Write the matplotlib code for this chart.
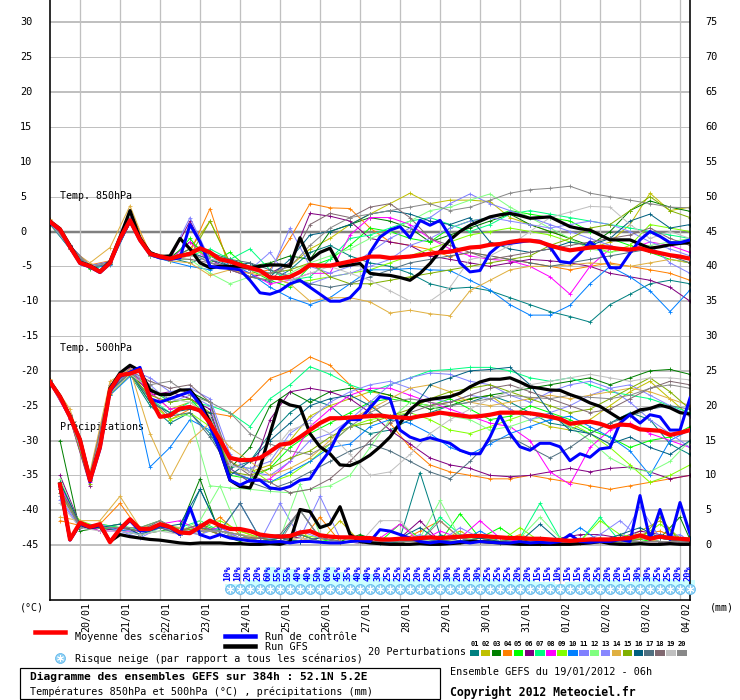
import numpy as np
import matplotlib
matplotlib.use('Agg')
import matplotlib.pyplot as plt
from matplotlib import transforms
from matplotlib.lines import Line2D
from matplotlib.patches import Rectangle

plt.rcParams['font.family'] = ['DejaVu Sans Mono', 'DejaVu Sans']

W, H = 740, 700
PX = 0.72            # one pixel in points (dpi 100)
DEG_PX = 6.967       # pixels per degree on the plot
RAIN_ZERO = -45.0    # 0 mm sits on -45 degC

# time axes (hours since 19/01/2012 06h)
HOURS_6 = np.arange(0, 385, 6)
HOURS_12 = np.arange(0, 385, 12)
RAIN_HOURS_6 = np.arange(6, 385, 6)
RAIN_HOURS_12 = np.r_[np.arange(6, 384, 12), 384]

DATES = ['20/01', '21/01', '22/01', '23/01', '24/01', '25/01', '26/01', '27/01',
         '28/01', '29/01', '30/01', '31/01', '01/02', '02/02', '03/02', '04/02']
DATE_HOURS = 18 + 24 * np.arange(len(DATES))

T_TICKS = list(range(30, -46, -5))

MEMBER_COLORS = ['#008080', '#c0c000', '#008000', '#ff8000', '#00ff00', '#800080',
                 '#00ff80', '#ff00ff', '#80ff00', '#0080ff', '#8080ff', '#80ff80',
                 '#8888ff', '#e0b040', '#80b000', '#006080', '#507080', '#806870',
                 '#c0c0c0', '#888888']

# ---- 850 hPa temperature, 20 perturbations (12 h steps) ----
T850_MEMBERS = [
    [1.3, -2.0, -5.2, -4.3, 1.5, -3.4, -3.8, -4.5, -3.5, -5.0, -6.5, -7.2, -5.5, -3.0, -2.0, -3.5, -4.5, -5.0, -6.0, -7.5, -8.2, -8.0, -8.5, -9.5, -10.5, -11.5, -12.2, -13.0, -10.5, -9.0, -7.5, -7.0, -7.5],
    [1.0, -2.4, -5.0, -4.6, 1.8, -3.0, -4.0, -2.5, 1.5, -4.5, -5.5, -6.0, -5.0, -2.5, -1.0, 1.0, 2.5, 4.0, 5.5, 4.0, 4.5, 4.5, 4.3, 2.0, 1.0, 0.0, -1.0, -2.5, -1.5, 1.0, 5.5, 3.0, 3.5],
    [1.5, -2.1, -5.3, -4.4, 2.0, -3.3, -3.8, -1.5, -3.5, -4.0, -5.0, -4.5, -3.5, -4.0, 0.0, 1.0, 2.0, 1.5, 0.5, -1.5, -0.5, 0.5, 1.5, 2.5, 1.0, 0.0, -1.0, -2.0, 0.0, 3.0, 4.4, 3.5, 2.9],
    [1.6, -2.3, -4.8, -4.2, 3.0, -3.0, -3.6, -3.0, 3.3, -5.5, -6.0, -5.5, -1.0, 4.0, 3.4, 3.3, 0.5, -1.5, -2.0, -2.6, -3.6, -3.0, -3.5, -4.0, -4.5, -5.0, -5.5, -5.0, -4.5, -5.0, -5.5, -6.0, -7.0],
    [1.2, -2.5, -5.4, -4.7, 1.3, -3.5, -4.2, -1.0, -4.5, -3.0, -5.5, -7.0, -8.0, -5.0, -4.0, -2.0, 0.5, 0.0, -1.0, -1.5, 0.5, 1.5, 2.0, 3.0, 2.5, 2.0, 1.5, 0.0, -1.0, -2.0, -3.0, -4.0, -4.5],
    [1.4, -2.2, -5.1, -4.6, 1.2, -3.2, -4.0, 1.5, -4.0, -5.5, -6.5, -6.0, -4.5, 2.6, 2.2, 1.5, -1.0, -1.5, -2.0, -3.5, -4.0, -4.5, -5.0, -4.5, -4.0, -4.2, -4.5, -5.0, -6.0, -6.5, -7.0, -8.0, -10.0],
    [1.3, -2.3, -4.9, -4.5, 1.7, -3.1, -3.9, -3.5, -2.5, -4.0, -2.5, -5.5, -7.0, -6.5, -4.0, -1.0, -0.5, 0.5, 1.5, 2.0, 1.0, 0.0, 1.0, 2.5, 3.0, 2.5, 2.0, 1.5, 1.0, 0.5, 0.0, -0.5, -1.0],
    [1.5, -2.1, -5.0, -4.4, 1.9, -3.3, -4.1, -1.5, -4.5, -5.0, -6.0, -7.5, -7.0, -6.0, -6.0, -0.5, 2.0, 2.0, 1.0, -1.0, -2.5, -3.5, -4.0, -4.2, -5.0, -6.5, -9.0, -5.0, -2.5, -2.5, -1.5, -2.0, -3.0],
    [1.2, -2.4, -5.1, -4.6, 1.5, -3.4, -3.9, -2.5, -3.5, -4.5, -5.5, -6.5, -7.5, -7.0, -6.5, -6.0, -5.5, -4.5, -3.5, -2.5, -1.5, -0.5, 0.0, 0.5, 0.0, -0.5, -1.5, -2.0, -3.0, -2.0, 1.0, 0.5, 0.0],
    [1.1, -2.5, -5.3, -4.8, 1.3, -3.5, -4.3, -5.0, -5.5, -4.5, -6.0, -8.0, -9.5, -10.5, -9.5, -7.5, -5.5, -5.5, -5.3, -5.5, -5.6, -7.0, -8.4, -10.5, -12.0, -12.0, -10.6, -7.5, -5.0, -6.5, -8.5, -11.5, -8.4],
    [1.4, -2.0, -4.9, -4.3, 1.8, -3.0, -3.7, 2.0, -4.0, -4.5, -5.0, -6.0, 0.5, -5.0, -6.0, -5.0, -3.0, -1.0, 0.5, 2.0, 4.0, 5.4, 4.0, 3.0, 2.0, 1.0, 0.0, -1.0, -2.0, -3.0, -2.0, -4.5, -6.0],
    [1.3, -2.2, -5.2, -4.5, 1.4, -3.2, -4.0, -4.0, -6.0, -7.5, -6.5, -7.0, -6.0, -4.5, -3.5, -2.5, -1.0, 0.0, 1.5, 3.0, 3.5, 4.5, 5.4, 3.5, 2.0, 0.5, -1.0, -2.5, -3.0, -2.5, -2.0, -1.5, -1.0],
    [1.2, -2.3, -5.1, -4.7, 1.5, -3.4, -4.1, -3.0, -4.5, -5.0, -5.5, -3.0, -7.0, -7.5, -6.5, -6.0, -5.0, -4.0, -2.0, -1.0, 0.5, 1.5, 2.0, 1.5, 1.0, 0.5, 1.0, 1.5, 1.0, 0.0, -1.5, -2.5, -3.5],
    [1.8, -2.5, -4.5, -2.3, 3.7, -3.5, -4.2, -4.5, -6.3, -5.5, -6.0, -6.5, -7.5, -10.0, -9.5, -9.5, -10.1, -11.7, -11.3, -11.8, -12.1, -8.5, -7.0, -5.5, -5.0, -5.0, -4.8, -4.5, -4.7, -5.0, -4.5, -4.0, -4.5],
    [1.3, -2.2, -5.0, -4.6, 1.6, -3.2, -4.0, -3.5, 1.5, -4.5, -5.5, -6.0, -5.5, -4.5, -6.5, -7.5, -7.5, -7.0, -6.5, -6.0, -5.5, -5.0, -4.5, -4.0, -3.5, -2.0, -1.0, 0.5, 1.0, 3.0, 5.0, 3.0, 2.0],
    [1.4, -2.1, -5.1, -4.4, 1.6, -3.1, -3.8, -3.0, -4.0, -5.0, -4.5, -6.5, -4.0, -0.5, 0.0, 1.0, 2.5, 3.0, 2.5, 1.5, 1.0, 2.0, -1.5, -2.5, -3.0, -2.5, -1.5, -2.0, -1.0, 1.5, 2.5, 0.5, 1.0],
    [1.2, -2.4, -5.2, -4.6, 1.4, -3.3, -3.9, -2.5, -3.0, -4.0, -4.5, -5.5, -6.5, -7.5, -8.0, -7.5, -6.5, -5.5, -4.5, -4.0, -3.5, -3.0, -3.5, -4.0, -4.5, -5.0, -4.5, -4.0, -3.5, -3.0, -2.5, -3.5, -4.5],
    [1.5, -2.0, -5.0, -4.4, 1.8, -3.0, -3.8, -4.0, -4.5, -5.5, -6.5, -7.0, -4.5, 1.0, 2.6, 2.0, 3.5, 4.0, 2.0, -1.0, -2.0, -3.0, -4.0, -3.5, -3.0, -2.5, -2.0, -1.5, -1.0, -0.5, 0.5, -1.0, -2.0],
    [1.3, -2.3, -5.0, -4.5, 1.5, -3.3, -4.0, -3.5, -4.0, -4.5, -5.5, -6.5, -7.0, -6.0, -5.0, -6.0, -7.0, -8.5, -10.0, -10.0, -8.0, -4.0, -3.5, -2.0, 0.0, 2.0, 2.8, 3.6, 3.5, 1.0, -1.0, 0.0, -1.0],
    [1.4, -2.2, -5.1, -4.5, 1.6, -3.2, -3.9, -3.0, -4.5, -5.0, -5.5, -6.0, -5.0, -2.0, 0.5, 2.0, 2.5, 3.0, 3.5, 4.0, 3.0, 3.5, 4.5, 5.5, 6.0, 6.2, 6.5, 5.5, 5.0, 4.5, 4.0, 3.5, 3.4],
]

# 6 h steps: ensemble mean, control run, operational GFS
T850_MEAN = [1.4, 0.3, -2.2, -4.5, -5.0, -5.8, -4.5, -1.0, 1.6, -1.2,
             -3.2, -3.6, -3.9, -3.5, -3.2, -2.4, -3.0, -4.0, -4.3, -4.8,
             -5.2, -5.6, -6.6, -6.7, -6.5, -5.8, -4.8, -4.9, -4.9, -4.6,
             -4.3, -4.0, -3.6, -3.6, -3.8, -3.7, -3.6, -3.4, -3.2, -3.0,
             -2.9, -2.6, -2.3, -2.2, -1.9, -1.8, -1.5, -1.3, -1.3, -1.5,
             -2.0, -2.4, -2.7, -2.5, -2.3, -2.2, -2.3, -2.5, -2.6, -2.4,
             -2.8, -3.1, -3.4, -3.6, -3.9]
T850_CONTROL = [1.3, 0.2, -2.3, -4.6, -5.1, -5.9, -4.6, -1.2, 1.5, -1.3,
                -3.3, -3.8, -4.0, -3.8, 1.0, -1.5, -5.0, -5.2, -5.3, -5.5,
                -7.0, -8.8, -9.0, -8.5, -7.5, -7.0, -8.0, -9.0, -10.0, -10.0,
                -9.5, -8.0, -3.0, -0.8, 0.2, 0.7, -0.9, 1.6, 0.9, 1.6,
                -0.7, -4.5, -5.8, -5.6, -3.1, -1.9, -1.7, -1.5, -1.3, -1.4,
                -2.2, -4.3, -4.5, -3.1, -1.5, -2.6, -5.2, -5.2, -3.1, -1.2,
                0.0, -0.7, -1.6, -1.6, -1.2]
T850_GFS = [1.5, 0.4, -2.0, -4.4, -4.9, -5.7, -4.3, -0.8, 3.0, -1.0,
            -3.0, -3.6, -3.5, -1.0, -2.5, -4.5, -5.2, -5.0, -5.0, -5.0,
            -5.2, -5.0, -4.8, -4.8, -5.0, -0.9, -4.1, -3.0, -2.4, -5.0,
            -4.8, -4.6, -6.0, -6.2, -6.3, -6.6, -7.0, -6.0, -4.6, -2.8,
            -1.2, 0.0, 0.9, 1.5, 2.1, 2.4, 2.6, 2.3, 1.9, 2.0,
            2.1, 1.4, 0.7, 0.4, 0.2, -0.5, -1.2, -1.2, -1.2, -1.8,
            -2.4, -2.2, -1.9, -1.7, -1.6]

# ---- 500 hPa temperature, 20 perturbations (12 h steps) ----
T500_MEMBERS = [
    [-21.5, -26.5, -35.0, -23.0, -20.5, -25.0, -27.5, -26.0, -29.0, -34.0, -33.0, -29.0, -26.0, -24.0, -25.0, -27.5, -29.0, -28.5, -27.0, -26.0, -25.0, -24.5, -23.5, -24.5, -26.0, -27.5, -28.0, -29.0, -27.5, -26.0, -27.0, -30.5, -32.0],
    [-21.8, -26.8, -35.8, -23.5, -20.2, -23.0, -25.5, -24.5, -26.5, -33.0, -34.5, -33.5, -30.0, -26.5, -25.0, -24.0, -23.0, -23.5, -24.5, -25.0, -24.5, -24.0, -23.5, -25.5, -27.0, -28.0, -28.5, -27.0, -25.0, -23.0, -21.5, -24.0, -26.5],
    [-21.3, -26.3, -35.2, -22.5, -20.6, -22.8, -24.0, -23.0, -24.5, -34.0, -31.0, -25.0, -23.0, -24.5, -23.0, -22.5, -22.8, -23.5, -24.5, -25.5, -25.0, -24.0, -23.5, -23.0, -22.5, -22.0, -21.5, -21.0, -22.0, -21.0, -20.0, -19.8, -20.5],
    [-21.6, -26.4, -35.3, -22.0, -20.0, -24.0, -27.0, -25.5, -26.0, -26.5, -24.0, -21.1, -20.0, -18.0, -19.2, -22.0, -24.5, -27.5, -31.0, -33.5, -34.5, -35.0, -35.5, -35.5, -35.0, -35.5, -36.0, -36.5, -37.0, -36.5, -36.0, -35.5, -35.0],
    [-21.4, -26.7, -35.6, -22.6, -20.3, -22.5, -24.5, -24.0, -27.0, -35.0, -35.5, -34.0, -31.0, -29.0, -27.5, -26.0, -24.5, -24.0, -24.5, -25.0, -24.0, -25.5, -27.0, -26.5, -25.0, -26.0, -27.0, -28.5, -29.5, -31.0, -30.0, -29.5, -28.0],
    [-21.7, -26.9, -36.5, -23.0, -19.5, -23.5, -23.0, -24.0, -25.5, -34.5, -35.5, -27.0, -23.0, -22.5, -23.0, -24.0, -26.0, -28.5, -30.5, -32.5, -33.5, -34.0, -35.0, -35.2, -35.0, -34.5, -34.0, -34.5, -34.0, -33.8, -34.5, -35.5, -35.0],
    [-21.5, -26.5, -35.4, -22.4, -20.2, -24.0, -26.0, -24.5, -25.0, -26.0, -28.0, -24.0, -22.0, -19.4, -20.5, -22.0, -23.0, -22.0, -21.0, -20.0, -19.8, -19.5, -19.5, -20.0, -21.0, -21.5, -21.0, -22.0, -23.0, -23.5, -24.0, -25.0, -26.0],
    [-21.8, -26.9, -36.0, -23.2, -20.0, -23.0, -25.5, -25.0, -27.0, -34.0, -36.0, -35.5, -33.0, -28.0, -25.5, -23.5, -22.5, -22.5, -23.5, -24.5, -25.5, -26.5, -27.5, -28.0, -30.0, -34.5, -36.3, -31.0, -28.5, -27.5, -29.0, -30.0, -31.0],
    [-21.4, -26.4, -35.2, -22.7, -20.4, -24.5, -27.0, -26.0, -28.0, -33.5, -34.0, -36.0, -35.0, -33.0, -30.5, -28.0, -27.0, -26.5, -26.0, -27.0, -28.5, -29.0, -28.0, -27.0, -26.0, -26.5, -27.5, -29.0, -31.0, -33.5, -36.0, -35.0, -33.5],
    [-21.6, -26.6, -35.5, -23.5, -20.8, -33.8, -31.0, -27.0, -28.5, -34.5, -35.5, -36.0, -34.5, -33.0, -31.0, -30.5, -28.0, -27.0, -27.5, -29.0, -31.0, -32.0, -30.5, -29.0, -28.0, -27.0, -26.5, -28.0, -29.5, -31.5, -35.0, -30.0, -28.5],
    [-21.5, -26.2, -35.0, -22.0, -19.8, -21.0, -23.0, -22.5, -24.0, -32.0, -34.5, -35.0, -33.0, -30.0, -29.0, -27.0, -24.5, -22.0, -21.0, -20.3, -20.5, -21.5, -22.0, -23.5, -24.5, -23.0, -22.0, -21.5, -22.5, -24.5, -27.0, -29.0, -31.0],
    [-21.7, -26.7, -35.7, -23.0, -20.5, -24.5, -26.0, -26.5, -36.5, -36.8, -37.0, -37.3, -37.5, -37.0, -36.5, -35.0, -31.0, -27.0, -24.5, -25.0, -26.5, -27.0, -28.5, -28.0, -27.0, -26.5, -28.0, -30.0, -32.5, -34.0, -34.5, -33.0, -30.0],
    [-21.4, -26.4, -35.3, -22.5, -20.0, -22.0, -24.5, -23.5, -25.0, -33.5, -34.0, -33.0, -29.0, -27.0, -24.5, -23.0, -22.0, -21.5, -22.5, -24.0, -24.5, -23.5, -24.0, -25.5, -27.0, -26.0, -25.0, -23.5, -22.5, -22.0, -23.5, -25.0, -26.5],
    [-21.2, -25.5, -34.5, -21.5, -19.8, -29.0, -35.4, -30.0, -27.5, -31.0, -33.0, -35.0, -34.0, -32.5, -30.0, -27.0, -25.5, -24.0, -22.5, -22.0, -23.0, -24.5, -25.0, -24.5, -24.0, -23.5, -24.0, -23.5, -23.0, -22.5, -23.0, -24.0, -25.0],
    [-21.6, -26.8, -36.2, -23.3, -20.6, -23.5, -24.5, -24.0, -26.0, -34.5, -35.0, -34.0, -32.5, -31.5, -29.5, -28.0, -27.5, -26.5, -25.5, -24.0, -23.0, -22.5, -22.0, -23.0, -24.0, -25.0, -26.0, -25.5, -24.0, -22.5, -21.0, -23.0, -25.5],
    [-21.5, -26.5, -35.6, -22.8, -20.3, -24.5, -26.0, -25.5, -26.0, -35.0, -33.0, -30.0, -27.5, -25.0, -24.0, -23.5, -25.0, -27.0, -26.0, -22.0, -21.0, -20.0, -19.8, -19.5, -22.0, -26.0, -28.5, -29.0, -30.5, -29.5, -31.0, -32.0, -30.0],
    [-21.7, -26.6, -35.4, -23.0, -20.4, -24.0, -26.5, -26.0, -29.5, -34.0, -36.0, -37.0, -36.0, -34.5, -33.0, -31.5, -30.5, -31.5, -33.0, -34.5, -35.5, -33.0, -30.0, -29.5, -31.0, -32.5, -31.0, -29.0, -27.5, -26.5, -25.5, -25.0, -25.5],
    [-21.3, -26.3, -35.0, -22.3, -20.0, -21.5, -22.5, -22.0, -24.5, -33.0, -35.0, -36.0, -37.5, -37.0, -35.5, -33.0, -30.0, -27.5, -26.0, -25.0, -24.5, -23.5, -22.5, -22.0, -23.0, -24.0, -25.0, -26.0, -25.5, -24.0, -22.5, -21.5, -22.0],
    [-21.6, -26.7, -35.5, -23.2, -20.5, -22.5, -24.0, -24.5, -26.5, -33.5, -34.5, -32.0, -28.5, -27.5, -29.0, -32.0, -35.0, -34.5, -32.0, -29.0, -27.0, -25.5, -24.0, -23.0, -22.0, -21.5, -21.0, -20.5, -21.0, -21.5, -21.0, -21.0, -21.3],
    [-21.5, -26.5, -35.4, -22.6, -20.3, -22.0, -21.5, -23.5, -24.5, -26.0, -29.0, -30.5, -31.5, -32.0, -30.5, -28.0, -26.0, -24.5, -24.0, -24.5, -25.0, -24.5, -24.0, -23.5, -23.8, -24.0, -23.5, -23.8, -24.0, -23.5, -22.5, -22.0, -22.5],
]

T500_MEAN = [-21.6, -23.7, -26.6, -29.9, -35.7, -30.9, -22.75, -20.6, -20.4, -19.9,
             -23.9, -26.6, -26.4, -25.4, -25.2, -25.7, -27.5, -29.9, -32.5, -32.8,
             -32.8, -32.5, -31.6, -30.6, -30.4, -29.5, -28.5, -27.5, -26.8, -26.8,
             -26.7, -26.6, -26.5, -26.4, -26.6, -26.7, -26.8, -26.5, -26.3, -26.0,
             -26.2, -26.4, -26.6, -26.5, -26.3, -26.0, -26.0, -26.0, -26.1, -26.3,
             -26.6, -26.9, -27.6, -27.4, -27.3, -27.6, -28.1, -27.7, -27.8, -28.4,
             -28.5, -28.6, -29.2, -28.9, -28.5]
T500_CONTROL = [-21.6, -23.8, -26.7, -30.0, -35.9, -31.2, -23.0, -20.8, -20.2, -19.5,
                -24.0, -24.5, -24.0, -23.5, -23.0, -24.8, -27.9, -31.4, -35.7, -36.4,
                -35.7, -35.7, -36.8, -37.0, -36.6, -35.7, -35.5, -33.3, -31.4, -28.5,
                -27.0, -27.0, -25.3, -23.7, -24.0, -28.5, -29.5, -30.0, -29.6, -30.0,
                -30.4, -31.4, -31.9, -31.9, -29.5, -26.4, -29.0, -30.9, -31.4, -30.4,
                -30.4, -30.9, -32.9, -31.9, -32.4, -31.2, -31.0, -27.5, -26.3, -27.5,
                -26.3, -26.6, -28.5, -28.5, -23.9]
T500_GFS = [-21.5, -23.6, -26.5, -29.8, -35.6, -30.8, -22.5, -20.3, -19.2, -20.0,
            -22.75, -23.4, -23.4, -22.75, -22.75, -24.5, -27.3, -31.4, -35.7, -36.6,
            -36.8, -33.9, -29.0, -24.2, -24.9, -25.2, -29.0, -30.9, -31.9, -33.5,
            -33.6, -33.0, -32.1, -30.9, -29.5, -27.5, -25.6, -24.4, -24.1, -23.9,
            -23.7, -23.2, -22.3, -21.6, -21.2, -21.2, -21.0, -21.6, -22.3, -22.5,
            -22.75, -22.8, -23.4, -23.9, -24.6, -25.1, -26.0, -26.9, -26.3, -25.6,
            -25.4, -24.9, -25.3, -26.0, -26.2]

# ---- precipitation (mm), 20 perturbations ----
RAIN_MEMBERS = [
    [9.0, 3.0, 2.5, 2.0, 1.5, 3.0, 1.5, 8.0, 2.0, 1.0, 0.5, 1.0, 5.0, 1.0, 0.5, 0.5, 0.3, 1.0, 10.4, 1.5, 0.5, 1.0, 0.5, 0.3, 0.5, 1.0, 0.5, 0.5, 0.8, 1.0, 0.5, 0.3, 0.5],
    [7.5, 2.5, 3.0, 2.5, 2.0, 2.5, 2.0, 1.5, 3.0, 2.0, 1.0, 0.5, 1.0, 0.5, 3.5, 0.5, 0.3, 0.5, 1.0, 0.5, 2.0, 0.5, 1.0, 0.5, 0.2, 0.5, 0.3, 1.0, 0.5, 2.0, 3.5, 1.0, 0.5],
    [15.0, 2.0, 2.5, 3.0, 1.5, 2.0, 2.5, 9.5, 1.5, 0.5, 1.5, 1.0, 0.5, 1.0, 0.5, 1.5, 0.5, 0.3, 1.0, 0.5, 0.5, 1.0, 0.3, 0.5, 1.0, 0.5, 0.5, 0.3, 1.0, 1.5, 1.0, 4.0, 0.8],
    [3.5, 2.8, 3.0, 6.0, 2.0, 3.0, 1.5, 2.0, 4.0, 1.5, 1.0, 0.5, 0.5, 4.0, 0.5, 0.5, 1.0, 0.5, 2.0, 3.5, 1.0, 0.5, 0.5, 1.5, 0.5, 0.8, 0.5, 0.3, 0.5, 1.5, 2.0, 0.8, 0.5],
    [8.0, 3.2, 2.5, 2.0, 2.5, 3.5, 2.0, 3.0, 2.0, 1.5, 0.5, 1.0, 1.5, 0.5, 1.0, 0.5, 0.5, 3.0, 1.0, 0.5, 4.5, 1.0, 2.5, 0.5, 0.3, 0.5, 0.5, 0.5, 0.3, 0.5, 1.0, 0.5, 1.0],
    [10.0, 3.0, 2.0, 2.5, 2.0, 2.5, 1.5, 2.5, 1.5, 1.0, 1.0, 1.5, 1.0, 0.5, 0.5, 0.3, 0.5, 1.0, 3.5, 0.5, 1.0, 0.5, 0.5, 0.3, 0.5, 1.0, 1.5, 1.5, 1.0, 2.0, 1.5, 0.8, 0.8],
    [9.0, 2.5, 3.0, 2.5, 1.5, 2.5, 2.5, 3.5, 2.0, 1.5, 0.5, 1.0, 1.5, 0.5, 0.5, 0.5, 0.5, 1.0, 0.5, 4.0, 1.5, 1.0, 1.0, 1.0, 6.0, 1.0, 0.5, 4.0, 0.5, 1.0, 0.5, 0.5, 0.3],
    [8.5, 3.0, 2.0, 2.0, 2.0, 3.0, 3.5, 2.0, 2.5, 1.0, 1.0, 0.5, 0.5, 1.0, 0.5, 0.3, 1.0, 3.0, 0.5, 2.0, 1.0, 3.5, 1.0, 0.5, 0.3, 0.5, 0.5, 0.5, 0.8, 0.5, 0.5, 0.3, 0.3],
    [7.0, 3.5, 2.5, 2.5, 2.0, 2.5, 2.0, 3.0, 3.5, 2.0, 1.0, 0.5, 1.5, 1.0, 0.5, 0.5, 0.5, 1.0, 0.5, 1.0, 0.5, 1.5, 0.5, 2.5, 0.5, 1.0, 0.5, 3.5, 1.5, 1.0, 3.0, 1.0, 1.0],
    [8.0, 3.0, 2.8, 2.0, 2.5, 3.0, 1.5, 2.0, 2.0, 6.0, 1.0, 1.0, 0.5, 0.5, 0.5, 0.5, 0.3, 0.5, 1.0, 0.5, 0.5, 2.0, 0.5, 1.0, 0.5, 0.5, 2.5, 0.5, 0.5, 0.8, 1.5, 0.8, 1.0],
    [6.5, 2.5, 3.0, 2.0, 1.0, 2.5, 2.0, 1.5, 2.5, 1.0, 0.5, 6.0, 1.0, 7.0, 1.0, 0.5, 0.5, 0.5, 1.5, 0.5, 1.0, 0.5, 0.5, 0.5, 0.3, 0.5, 1.0, 0.5, 0.5, 5.5, 1.0, 1.5, 0.5],
    [9.5, 2.8, 2.5, 3.0, 2.0, 2.0, 2.0, 3.5, 8.5, 1.5, 1.0, 1.0, 8.7, 1.5, 1.0, 0.5, 0.5, 0.5, 1.0, 6.4, 1.0, 1.0, 0.5, 1.0, 4.0, 1.0, 0.5, 0.5, 0.5, 1.5, 1.0, 0.5, 0.5],
    [7.0, 2.5, 2.5, 2.5, 1.5, 3.0, 2.0, 2.5, 2.0, 1.5, 1.0, 1.0, 2.0, 1.0, 0.5, 0.5, 0.5, 0.5, 1.0, 0.5, 2.5, 1.0, 0.5, 0.5, 0.5, 0.3, 0.5, 1.5, 3.5, 1.0, 0.5, 0.5, 0.5],
    [4.0, 3.5, 3.5, 7.0, 2.5, 3.0, 2.5, 2.0, 2.0, 1.5, 1.0, 0.5, 1.0, 0.5, 0.3, 0.5, 0.5, 0.5, 0.5, 0.5, 0.5, 1.0, 0.5, 0.3, 0.5, 0.5, 0.5, 0.3, 0.5, 1.0, 0.5, 0.5, 0.5],
    [8.0, 3.0, 2.5, 2.5, 2.0, 3.0, 2.0, 2.5, 1.5, 1.0, 1.0, 0.5, 1.5, 0.5, 0.5, 0.5, 0.5, 1.0, 0.5, 0.5, 1.0, 0.5, 0.5, 0.3, 0.5, 0.5, 0.5, 1.0, 0.5, 0.8, 4.0, 0.5, 0.5],
    [9.0, 3.0, 2.5, 3.0, 1.5, 2.5, 3.0, 8.0, 2.0, 1.0, 0.5, 1.0, 0.5, 1.0, 0.5, 0.5, 0.5, 1.0, 2.5, 0.5, 0.5, 1.0, 0.5, 0.5, 3.0, 0.5, 0.5, 0.5, 1.5, 2.5, 1.0, 0.5, 0.5],
    [8.0, 2.5, 2.5, 2.5, 2.0, 2.5, 1.5, 2.5, 2.0, 6.0, 1.0, 0.5, 1.5, 0.5, 0.5, 0.3, 0.5, 0.5, 1.0, 0.5, 1.0, 0.5, 0.5, 1.0, 0.5, 0.5, 0.5, 0.5, 1.0, 1.5, 1.0, 0.5, 0.5],
    [7.5, 3.0, 2.5, 2.5, 2.0, 3.5, 2.0, 3.0, 1.5, 1.0, 1.0, 1.5, 5.0, 1.0, 0.5, 0.5, 0.5, 0.5, 0.5, 0.5, 0.5, 0.5, 0.5, 0.5, 0.5, 0.5, 0.3, 0.5, 0.5, 0.5, 0.5, 0.5, 0.5],
    [6.0, 2.5, 2.0, 2.0, 1.5, 2.0, 1.5, 2.0, 2.0, 1.0, 0.5, 0.5, 1.0, 0.5, 0.5, 0.3, 3.5, 3.5, 0.5, 1.0, 0.5, 0.5, 0.5, 0.5, 0.5, 0.5, 0.5, 0.3, 0.3, 0.5, 0.5, 0.3, 0.3],
    [8.0, 2.5, 2.5, 2.5, 2.5, 3.5, 2.0, 2.0, 2.0, 1.5, 0.5, 0.5, 5.0, 1.0, 0.5, 0.5, 0.5, 0.5, 0.5, 3.5, 1.0, 0.5, 0.5, 0.5, 0.5, 0.5, 0.5, 0.5, 0.5, 0.5, 0.5, 0.5, 0.3],
]

RAIN_MEAN = [8.7, 0.8, 3.2, 2.6, 3.0, 0.4, 2.3, 3.7, 2.3, 2.3,
             3.0, 2.6, 1.8, 1.7, 2.6, 3.5, 2.8, 2.3, 2.3, 2.0,
             1.5, 1.3, 1.2, 1.3, 1.8, 2.0, 1.4, 1.2, 1.1, 1.1,
             1.0, 1.0, 0.8, 0.8, 0.9, 0.9, 1.0, 1.1, 1.0, 1.1,
             1.2, 1.3, 1.3, 1.2, 1.1, 1.0, 1.0, 0.9, 0.9, 0.8,
             0.7, 0.6, 0.7, 0.8, 0.8, 0.8, 0.9, 1.0, 1.4, 0.9,
             1.2, 1.0, 0.9, 0.8]
RAIN_CONTROL = [8.5, 0.7, 3.0, 2.5, 2.8, 0.5, 2.2, 3.5, 2.0, 2.2,
                2.8, 2.5, 1.5, 5.4, 1.5, 1.0, 1.5, 1.0, 0.8, 0.6,
                0.5, 0.4, 0.5, 0.3, 0.5, 0.5, 0.4, 0.3, 0.3, 0.5,
                0.6, 0.5, 2.2, 2.0, 1.5, 1.0, 0.5, 0.3, 0.5, 0.3,
                0.5, 0.3, 0.5, 0.4, 0.3, 0.3, 0.5, 0.3, 0.4, 0.3,
                0.5, 1.5, 0.5, 0.4, 0.5, 0.5, 0.8, 0.5, 7.1, 0.8,
                5.1, 0.8, 6.1, 1.6]
RAIN_GFS = [8.5, 0.8, 3.0, 2.5, 2.8, 0.5, 1.5, 1.2, 1.0, 0.8,
            0.7, 0.5, 0.3, 0.2, 0.3, 0.3, 0.3, 0.2, 0.2, 0.1,
            0.1, 0.2, 0.1, 0.5, 5.1, 4.8, 2.5, 3.0, 5.5, 1.5,
            0.5, 0.3, 0.2, 0.1, 0.1, 0.1, 0.2, 0.1, 0.1, 0.2,
            0.3, 0.5, 0.5, 0.4, 0.3, 0.2, 0.1, 0.1, 0.1, 0.1,
            0.1, 0.1, 0.2, 0.3, 0.5, 0.2, 0.1, 0.1, 0.2, 0.1,
            0.1, 0.2, 0.1, 0.1]

# ---- snow risk (% of scenarios), 6 h steps from +108 h ----
SNOW_HOURS = np.arange(108, 385, 6)
SNOW_PCT = [10, 10, 20, 20, 60, 55, 55, 40, 40, 50, 60, 45, 35, 40, 40, 30, 25, 25, 25, 20, 20, 25, 30,
            20, 20, 30, 25, 25, 25, 20, 20, 15, 15, 10, 15, 15, 20, 25, 20, 20, 15, 30, 30, 25, 25, 20, 20]


def deg(py):
    """pixel row of the reference image -> degC on the plot"""
    return 30 - (py - 22.5) / DEG_PX


def fy(py):
    return 1 - py / H


fig = plt.figure(figsize=(W / 100, H / 100), dpi=100)
ax = fig.add_axes([50 / W, fy(600), 640 / W, 600 / H])
ax.set_xlim(0, 384)
ax.set_ylim(deg(600), deg(0))
ax.set_xticks([])
ax.set_yticks([])
for side in ['left', 'right', 'bottom']:
    ax.spines[side].set_linewidth(1.6 * PX)
    ax.spines[side].set_color('black')
ax.spines['top'].set_visible(False)

# grid
for t in T_TICKS:
    lw = 2 if (t % 10 == 0 or t == -45) else 1
    col = '#808080' if t == 0 else '#c0c0c0'
    if t == 0:
        lw = 2.5
    ax.axhline(t, color=col, lw=lw * PX, zorder=0.5)
for h in DATE_HOURS:
    ax.axvline(h, color='#c0c0c0', lw=1.3 * PX, zorder=0.5)

# axis numbers
ytr = transforms.blended_transform_factory(fig.transFigure, ax.transData)
for t in T_TICKS:
    ax.text(20 / W, t, f'{t}', transform=ytr, ha='left', va='center', fontsize=7.4, clip_on=False)
    ax.text(705 / W, t, f'{t + 45}', transform=ytr, ha='left', va='center', fontsize=7.4, clip_on=False)

xtr = transforms.blended_transform_factory(ax.transData, fig.transFigure)
for h, d in zip(DATE_HOURS, DATES):
    ax.text(h + 3.6, fy(602), d, transform=xtr, rotation=90, ha='center', va='top',
            fontsize=7.2, clip_on=False)
fig.text(20 / W, fy(607), '(°C)', ha='left', va='center', fontsize=7.2)
fig.text(710 / W, fy(607), '(mm)', ha='left', va='center', fontsize=7.2)

# panel labels
ax.text(6, deg(196), 'Temp. 850hPa', fontsize=7.2, va='center', zorder=1.5)
ax.text(6, deg(348), 'Temp. 500hPa', fontsize=7.2, va='center', zorder=1.5)
ax.text(6, deg(427), 'Précipitations', fontsize=7.2, va='center', zorder=1.5)

# spaghetti
line_kw = dict(lw=1.0 * PX, marker='+', ms=3.2, mew=0.6, zorder=2)
for c, t850, t500, rain in zip(MEMBER_COLORS, T850_MEMBERS, T500_MEMBERS, RAIN_MEMBERS):
    ax.plot(HOURS_12, t850, color=c, **line_kw)
    ax.plot(HOURS_12, t500, color=c, **line_kw)
    ax.plot(RAIN_HOURS_12, RAIN_ZERO + np.array(rain), color=c, **line_kw)

for hrs, series, col, lw, z in [
        (HOURS_6, T850_GFS, 'black', 3.2, 3), (HOURS_6, T500_GFS, 'black', 3.2, 3),
        (RAIN_HOURS_6, RAIN_ZERO + np.array(RAIN_GFS), 'black', 3.2, 3),
        (HOURS_6, T850_CONTROL, '#0000ff', 3.0, 4), (HOURS_6, T500_CONTROL, '#0000ff', 3.0, 4),
        (RAIN_HOURS_6, RAIN_ZERO + np.array(RAIN_CONTROL), '#0000ff', 3.0, 4),
        (HOURS_6, T850_MEAN, '#ff0000', 4.2, 5), (HOURS_6, T500_MEAN, '#ff0000', 4.2, 5),
        (RAIN_HOURS_6, RAIN_ZERO + np.array(RAIN_MEAN), '#ff0000', 4.2, 5)]:
    ax.plot(hrs, series, color=col, lw=lw * PX, zorder=z, solid_joinstyle='round')

# snow risk band
ax.bar(SNOW_HOURS, np.array(SNOW_PCT) / 3 / DEG_PX, width=6, bottom=deg(587),
       color='#ccffff', zorder=1, clip_on=False, linewidth=0)
flake_y = np.full(len(SNOW_HOURS), deg(589))
ax.scatter(SNOW_HOURS, flake_y, s=(10 * PX) ** 2, marker='o', c='#8fd0f4',
           edgecolors='#5ab4ea', linewidths=0.5, zorder=6, clip_on=False)
ax.scatter(SNOW_HOURS, flake_y, s=(7 * PX) ** 2, marker=(6, 2, 0), c='white',
           linewidths=0.6, zorder=7, clip_on=False)
pct_tr = transforms.offset_copy(ax.transData, fig=fig, x=-2, y=0, units='dots')
for h, p in zip(SNOW_HOURS, SNOW_PCT):
    ax.text(h, deg(573), f'{p}%', transform=pct_tr, rotation=90, ha='center', va='center',
            color='#0000ff', fontsize=6.2, fontweight='bold', zorder=8, clip_on=False)

# legend
def fig_line(x0, x1, y, color, lw):
    fig.add_artist(Line2D([x0 / W, x1 / W], [fy(y), fy(y)], color=color, lw=lw * PX,
                          transform=fig.transFigure))

fig_line(35, 65, 632, '#ff0000', 4.5)
fig.text(75 / W, fy(637), 'Moyenne des scénarios', ha='left', va='center', fontsize=7.3)
fig_line(225, 255, 636, '#0000ff', 4.5)
fig.text(265 / W, fy(637), 'Run de contrôle', ha='left', va='center', fontsize=7.3)
fig_line(225, 255, 646, 'black', 4.5)
fig.text(265 / W, fy(647), 'Run GFS', ha='left', va='center', fontsize=7.3)
fig.add_artist(Line2D([60 / W], [fy(658)], marker='o', ms=10 * PX, mfc='#8fd0f4', mec='#5ab4ea',
                      mew=0.5, transform=fig.transFigure))
fig.add_artist(Line2D([60 / W], [fy(658)], marker=(6, 2, 0), ms=7 * PX, mec='white',
                      mew=0.6, transform=fig.transFigure))
fig.text(75 / W, fy(659), 'Risque neige (par rapport a tous les scénarios)', ha='left',
         va='center', fontsize=7.3)

fig.text(368 / W, fy(652), '20 Perturbations', ha='left', va='center', fontsize=7.3)
for i, c in enumerate(MEMBER_COLORS):
    x0 = 470 + 10.9 * i
    fig.add_artist(Rectangle((x0 / W, fy(656)), 9.5 / W, 6 / H, facecolor=c, edgecolor='none',
                             transform=fig.transFigure))
    fig.text((x0 + 4.75) / W, fy(644), f'{i + 1:02d}', ha='center', va='center',
             fontsize=5.0, fontweight='bold')

fig.add_artist(Rectangle((20 / W, fy(699)), 420 / W, 31 / H, fill=False, edgecolor='black',
                         lw=1.2 * PX, transform=fig.transFigure))
fig.text(30 / W, fy(677), 'Diagramme des ensembles GEFS sur 384h : 52.1N 5.2E', ha='left',
         va='center', fontsize=8.1, fontweight='bold')
fig.text(30 / W, fy(692), 'Températures 850hPa et 500hPa (°C) , précipitations (mm)',
         ha='left', va='center', fontsize=7.3)
fig.text(450 / W, fy(672), 'Ensemble GEFS du 19/01/2012 - 06h', ha='left', va='center',
         fontsize=7.3)
fig.text(450 / W, fy(692), 'Copyright 2012 Meteociel.fr', ha='left', va='center',
         fontsize=8.3, fontweight='bold')

fig.savefig('out.png', dpi=100)
